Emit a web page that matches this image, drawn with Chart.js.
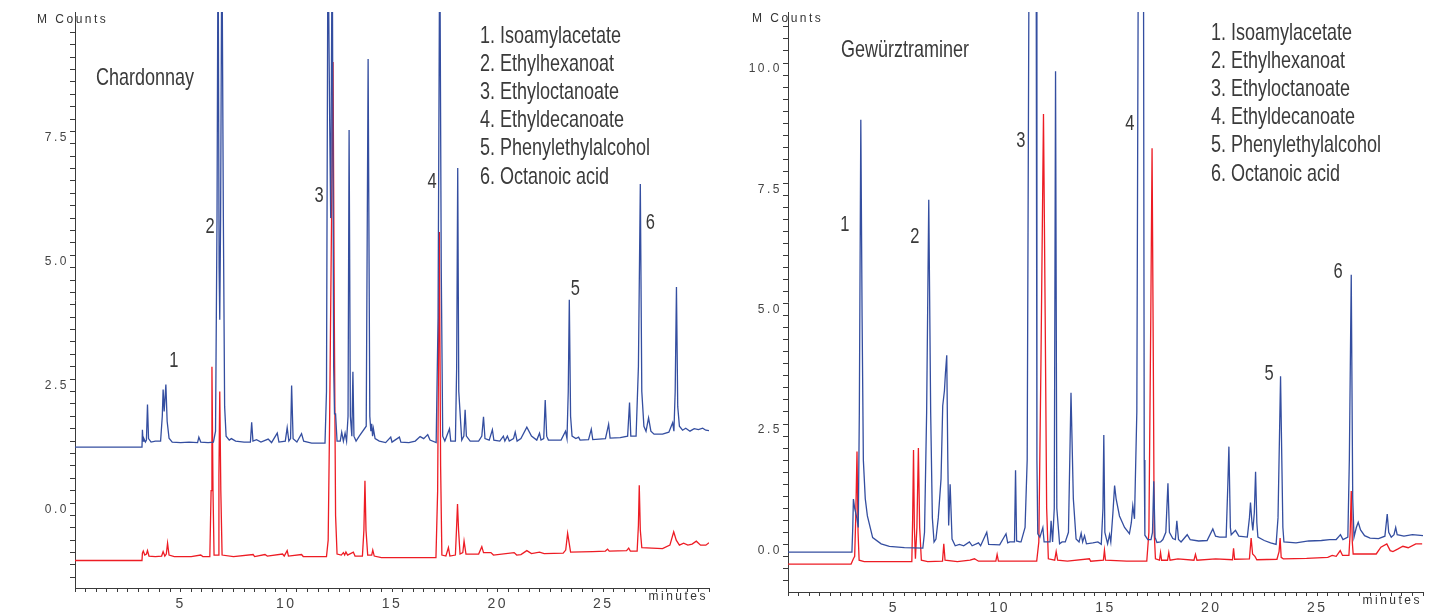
<!DOCTYPE html>
<html>
<head>
<meta charset="utf-8">
<script src="https://cdn.jsdelivr.net/npm/chart.js@4/dist/chart.umd.min.js"></script>
<style>
  body { margin: 0; background: #fff; }
  .panel { position: absolute; top: 0; width: 723px; height: 612px; }
  #leftPanel { left: 0; }
  #rightPanel { left: 723px; }
</style>
</head>
<body>
<div class="panel" id="leftPanel"><canvas id="chardonnayChart"></canvas></div>
<div class="panel" id="rightPanel"><canvas id="gewurzChart"></canvas></div>
<script>
// peak names, same list in both panels
const compounds = [
  '1. Isoamylacetate',
  '2. Ethylhexanoat',
  '3. Ethyloctanoate',
  '4. Ethyldecanoate',
  '5. Phenylethylalcohol',
  '6. Octanoic acid'
];

// [minutes, MCounts]
const chardonnayBlue = [
  [0,1.38],[3.17,1.38],[3.19,1.73],[3.22,1.5],[3.26,1.55],[3.33,1.48],[3.38,1.52],[3.43,2.24],[3.48,1.55],[3.6,1.48],
  [3.8,1.5],[4.05,1.5],[4.13,2.0],[4.17,2.54],[4.22,2.1],[4.3,2.64],[4.36,1.9],[4.45,1.56],[4.6,1.48],[5.0,1.47],
  [5.4,1.48],[5.8,1.47],[5.86,1.58],[5.95,1.48],[6.3,1.47],[6.55,1.48],[6.65,1.7],[6.72,6],[6.77,12],[6.82,5],
  [6.85,3.95],[6.89,6],[6.95,12],[7.02,6],[7.08,2.2],[7.15,1.6],[7.3,1.52],[7.4,1.55],[7.6,1.5],[8.0,1.48],
  [8.3,1.48],[8.36,1.88],[8.42,1.5],[8.59,1.53],[8.8,1.48],[9.14,1.54],[9.3,1.47],[9.57,1.66],[9.65,1.48],[9.95,1.5],
  [10.04,1.77],[10.12,1.5],[10.2,1.55],[10.25,2.62],[10.32,1.55],[10.5,1.48],[10.72,1.65],[10.82,1.5],[11.2,1.46],[11.83,1.46],
  [11.9,2.5],[11.97,12],[12.05,8],[12.1,6],[12.17,12],[12.24,3.0],[12.28,2.05],[12.33,2.05],[12.4,1.5],[12.55,1.5],
  [12.62,1.68],[12.7,1.5],[12.78,1.66],[12.85,1.5],[12.92,2],[12.97,7.78],[13.03,2],[13.1,1.6],[13.15,2.9],[13.2,1.6],
  [13.3,1.5],[13.45,1.6],[13.78,1.8],[13.87,9.21],[13.95,2],[14.0,1.7],[14.04,1.85],[14.08,1.6],[14.12,1.75],[14.2,1.55],
  [14.4,1.5],[14.7,1.47],[14.94,1.58],[15.0,1.48],[15.35,1.58],[15.42,1.48],[15.8,1.47],[16.1,1.5],[16.33,1.59],[16.5,1.55],
  [16.69,1.63],[16.8,1.52],[17.09,1.47],[17.18,4],[17.26,12],[17.33,5],[17.4,1.6],[17.5,1.5],[17.72,1.75],[17.78,1.5],
  [18.0,1.5],[18.06,3],[18.11,7.01],[18.16,2.5],[18.3,1.52],[18.4,1.6],[18.46,2.13],[18.52,1.6],[18.7,1.5],[19.1,1.5],
  [19.25,1.6],[19.33,1.99],[19.4,1.55],[19.6,1.52],[19.75,1.73],[19.82,1.52],[20.1,1.5],[20.27,1.6],[20.34,1.5],[20.46,1.6],
  [20.55,1.5],[20.75,1.55],[20.83,1.68],[20.92,1.5],[21.1,1.55],[21.38,1.78],[21.6,1.6],[21.85,1.52],[21.98,1.66],[22.05,1.52],
  [22.18,1.55],[22.25,2.33],[22.32,1.6],[22.4,1.52],[23.0,1.52],[23.21,1.7],[23.28,1.55],[23.34,2.5],[23.39,4.35],[23.45,2.0],
  [23.52,1.6],[23.7,1.55],[23.83,1.58],[23.9,1.52],[24.3,1.53],[24.43,1.74],[24.5,1.53],[25.1,1.55],[25.25,1.84],[25.32,1.56],
  [25.8,1.57],[26.15,1.6],[26.24,2.28],[26.3,1.6],[26.55,1.6],[26.66,3],[26.75,6.69],[26.82,2.5],[26.92,1.8],[27.02,1.7],
  [27.14,1.97],[27.25,1.7],[27.4,1.64],[27.8,1.64],[28.1,1.68],[28.28,1.87],[28.34,1.7],[28.4,2.5],[28.46,4.61],[28.52,2.2],
  [28.6,1.8],[28.75,1.72],[28.9,1.76],[29.1,1.7],[29.3,1.75],[29.5,1.73],[29.7,1.76],[29.85,1.72],[30,1.71]
];

const chardonnayRed = [
  [0,-0.91],[3.17,-0.91],[3.19,-0.76],[3.23,-0.72],[3.3,-0.8],[3.38,-0.78],[3.43,-0.71],[3.5,-0.82],[3.8,-0.83],[4.1,-0.82],
  [4.17,-0.73],[4.25,-0.82],[4.32,-0.78],[4.38,-0.56],[4.45,-0.8],[4.7,-0.83],[5.5,-0.83],[5.95,-0.8],[6.05,-0.83],[6.38,-0.83],
  [6.44,0.5],[6.48,3.0],[6.53,0.5],[6.58,-0.8],[6.77,-0.8],[6.81,0.8],[6.85,2.5],[6.9,0.5],[6.96,-0.8],[7.5,-0.83],
  [8.43,-0.79],[8.5,-0.83],[8.99,-0.79],[9.1,-0.82],[9.82,-0.78],[9.9,-0.82],[10.04,-0.71],[10.1,-0.82],[10.72,-0.79],[10.8,-0.83],
  [11.9,-0.83],[11.98,-0.5],[12.05,2],[12.14,6],[12.21,9.15],[12.27,4],[12.33,0],[12.4,-0.78],[12.6,-0.8],[12.7,-0.75],
  [12.76,-0.8],[12.82,-0.74],[12.9,-0.8],[13.17,-0.74],[13.25,-0.82],[13.6,-0.82],[13.67,-0.3],[13.72,0.7],[13.77,-0.3],[13.85,-0.8],
  [14.04,-0.8],[14.09,-0.7],[14.16,-0.82],[14.5,-0.85],[15.5,-0.85],[16.5,-0.85],[17.08,-0.85],[17.16,0.5],[17.24,5.72],[17.3,1],
  [17.36,-0.8],[17.55,-0.82],[17.67,-0.65],[17.74,-0.82],[18.0,-0.8],[18.05,-0.3],[18.1,0.23],[18.15,-0.3],[18.22,-0.78],[18.35,-0.75],
  [18.41,-0.52],[18.5,-0.78],[19.1,-0.78],[19.25,-0.63],[19.33,-0.75],[19.68,-0.75],[19.8,-0.8],[20.78,-0.75],[20.9,-0.8],[21.1,-0.79],
  [21.38,-0.71],[21.6,-0.77],[21.98,-0.74],[22.2,-0.77],[23.1,-0.76],[23.22,-0.7],[23.31,-0.36],[23.38,-0.55],[23.45,-0.74],[24.5,-0.73],
  [25.1,-0.72],[25.2,-0.68],[25.28,-0.72],[26.1,-0.71],[26.2,-0.66],[26.28,-0.72],[26.6,-0.72],[26.66,-0.2],[26.7,0.61],[26.75,-0.3],
  [26.82,-0.65],[27.3,-0.66],[27.8,-0.67],[28.15,-0.6],[28.33,-0.33],[28.45,-0.5],[28.6,-0.6],[28.8,-0.56],[29.0,-0.6],[29.2,-0.58],
  [29.4,-0.52],[29.6,-0.6],[29.85,-0.6],[30,-0.55]
];

const gewurzBlue = [
  [0,0.09],[3.02,0.09],[3.06,0.6],[3.09,1.19],[3.15,1.0],[3.25,0.8],[3.32,0.6],[3.37,3],[3.44,9.07],[3.5,5],
  [3.56,2],[3.65,1.2],[3.75,0.84],[4.0,0.39],[4.4,0.26],[4.79,0.21],[5.5,0.18],[6.37,0.17],[6.45,0.5],[6.55,3],
  [6.65,7.41],[6.74,3],[6.82,0.8],[6.9,0.3],[6.99,0.36],[7.1,0.8],[7.23,1.61],[7.31,3.13],[7.39,3.44],[7.44,3.82],
  [7.5,4.18],[7.55,2],[7.59,0.64],[7.66,1.5],[7.75,0.36],[7.9,0.22],[8.1,0.25],[8.3,0.22],[8.57,0.3],[8.7,0.22],
  [9.0,0.28],[9.1,0.22],[9.39,0.5],[9.48,0.25],[10.0,0.24],[10.3,0.47],[10.38,0.28],[10.48,0.3],[10.7,0.3],[10.75,1.79],
  [10.8,0.32],[10.95,0.3],[11.01,0.3],[11.2,0.6],[11.3,2],[11.4,14],[11.72,14],[11.76,2],[11.8,0.47],[11.9,0.4],
  [12.04,0.6],[12.1,0.3],[12.38,0.3],[12.43,0.74],[12.5,0.3],[12.58,1],[12.64,10.08],[12.7,1],[12.83,0.26],[12.95,0.3],
  [13.1,0.3],[13.25,0.5],[13.37,3.4],[13.48,1.2],[13.61,0.36],[13.75,0.3],[13.85,0.48],[13.92,0.3],[14.01,0.43],[14.1,0.26],
  [14.4,0.28],[14.64,0.3],[14.8,0.25],[14.88,1],[14.92,2.52],[14.97,0.5],[15.1,0.26],[15.19,0.45],[15.25,0.3],[15.35,0.9],
  [15.43,1.47],[15.5,1.2],[15.66,0.84],[15.9,0.6],[16.13,0.47],[16.22,0.7],[16.29,1.05],[16.37,0.78],[16.48,3],[16.56,14],
  [16.79,14],[16.83,2],[16.86,0.44],[17.0,0.35],[17.15,0.35],[17.22,0.5],[17.28,1.56],[17.34,0.4],[17.43,0.29],[17.6,0.3],
  [17.71,0.35],[17.85,0.5],[17.95,1.52],[18.02,0.5],[18.18,0.37],[18.3,0.35],[18.37,0.74],[18.45,0.35],[18.57,0.3],[18.86,0.45],
  [19.0,0.35],[19.4,0.32],[19.8,0.33],[20.07,0.57],[20.2,0.42],[20.39,0.4],[20.7,0.4],[20.78,1.5],[20.83,2.28],[20.9,0.6],
  [20.94,0.45],[21.14,0.54],[21.3,0.42],[21.7,0.4],[21.8,0.8],[21.85,1.12],[21.92,0.7],[21.96,0.54],[22.03,0.9],[22.09,1.76],
  [22.15,0.7],[22.2,0.4],[22.5,0.33],[22.8,0.28],[23.06,0.25],[23.15,0.8],[23.22,2.5],[23.27,3.74],[23.33,2.0],[23.38,0.6],
  [23.43,0.3],[24.0,0.28],[24.6,0.32],[25.2,0.33],[25.59,0.35],[25.9,0.35],[26.04,0.42],[26.1,0.45],[26.22,0.35],[26.45,0.4],
  [26.52,2.0],[26.61,5.85],[26.68,1.2],[26.74,0.4],[26.85,0.6],[26.94,0.71],[27.05,0.55],[27.24,0.43],[27.5,0.38],[27.9,0.37],
  [28.2,0.42],[28.31,0.88],[28.38,0.5],[28.5,0.4],[28.63,0.45],[28.71,0.6],[28.78,0.45],[29.1,0.42],[29.5,0.45],[29.75,0.44],
  [30,0.43]
];

const gewurzRed = [
  [0,-0.16],[2.98,-0.16],[3.09,-0.05],[3.15,0.0],[3.2,0.8],[3.26,2.18],[3.31,0.5],[3.36,-0.08],[3.6,-0.11],[5.0,-0.11],
  [5.85,-0.11],[5.89,0.8],[5.93,2.21],[5.97,0.6],[6.02,-0.05],[6.09,0.6],[6.16,2.25],[6.22,0.6],[6.3,-0.08],[6.6,-0.11],
  [7.3,-0.1],[7.36,0.26],[7.42,-0.08],[8.0,-0.11],[8.6,-0.08],[8.81,-0.05],[9.0,-0.1],[9.82,-0.1],[9.88,0.04],[9.94,-0.1],
  [10.6,-0.1],[11.75,-0.1],[11.85,0.3],[11.95,4],[12.07,9.19],[12.15,5],[12.22,1],[12.3,-0.05],[12.6,-0.08],[12.67,0.1],
  [12.74,-0.08],[13.2,-0.1],[14.24,-0.05],[14.3,-0.1],[14.9,-0.08],[14.95,0.13],[15.0,-0.08],[16.0,-0.1],[16.95,-0.1],[17.05,0.5],
  [17.14,5],[17.2,8.48],[17.26,4],[17.3,0.5],[17.36,-0.05],[17.55,-0.08],[17.6,0.08],[17.65,-0.08],[17.93,-0.08],[17.99,0.08],
  [18.05,-0.08],[18.42,-0.05],[19.18,-0.08],[19.25,0.04],[19.32,-0.08],[20.2,-0.05],[21.0,-0.07],[21.05,0.17],[21.1,-0.06],[21.8,-0.05],
  [21.88,0.38],[21.95,0.05],[22.06,0.0],[22.15,-0.07],[23.1,-0.06],[23.2,0.1],[23.25,0.38],[23.3,-0.02],[23.4,-0.05],[24.5,-0.04],
  [25.5,-0.02],[25.71,0.02],[25.9,0.0],[26.09,0.12],[26.2,0.02],[26.5,0.02],[26.56,0.5],[26.61,1.36],[26.66,0.3],[26.7,0.05],
  [27.2,0.05],[27.79,0.05],[28.01,0.19],[28.29,0.26],[28.45,0.12],[28.58,0.1],[28.8,0.15],[29.05,0.21],[29.3,0.18],[29.66,0.26],
  [29.96,0.26]
];

// peak numbers: [label, minutes, MCounts]
const chardonnayPeakLabels = [['1',4.68,3.12],['2',6.39,5.82],['3',11.55,6.45],['4',16.9,6.73],['5',23.67,4.57],['6',27.22,5.91]];
const gewurzPeakLabels = [['1',2.68,6.89],['2',5.99,6.64],['3',11.0,8.63],['4',16.15,8.98],['5',22.73,3.79],['6',25.99,5.91]];

const BLUE = '#344ea0';
const RED = '#ed1c24';
const AXIS = '#3a3a3a';
const TEXT = '#333';
const SANS = '"Liberation Sans", Arial, sans-serif';

function toPoints(pairs) {
  return pairs.map(p => ({ x: p[0], y: p[1] }));
}

function stepTicks(start, end, step) {
  let ticks = [];
  for (let i = 0; start + i * step <= end + 1e-9; i++) {
    ticks.push({ value: start + i * step });
  }
  return ticks;
}

function drawNarrow(ctx, text, x, y, size, align) {
  ctx.save();
  ctx.translate(x, y);
  ctx.scale(0.75, 1);
  ctx.font = size + 'px ' + SANS;
  ctx.textAlign = align;
  ctx.textBaseline = 'middle';
  ctx.fillText(text, 0, 0);
  ctx.restore();
}

function textPlugin(panel) {
  return {
    id: 'chromText',
    beforeDraw(chart) {
      chart.ctx.letterSpacing = '2.5px';
    },
    afterDraw(chart) {
      const ctx = chart.ctx;
      const area = chart.chartArea;
      const xs = chart.scales.x;
      const ys = chart.scales.y;
      ctx.save();
      ctx.fillStyle = TEXT;
      ctx.font = '12px ' + SANS;
      ctx.textBaseline = 'middle';
      ctx.textAlign = 'left';
      ctx.fillText('M Counts', area.left - panel.countsOffset, panel.countsY);
      ctx.textAlign = 'right';
      ctx.fillText('minutes', area.right - 1, area.bottom + panel.minutesDrop);
      ctx.letterSpacing = '0px';
      ctx.fillStyle = '#3a3a3a';
      drawNarrow(ctx, panel.title, panel.titleX, panel.titleY, 24, 'left');
      compounds.forEach((name, i) => {
        drawNarrow(ctx, name, panel.legendX, panel.legendY + i * 28.2, 24, 'left');
      });
      panel.peaks.forEach(p => {
        drawNarrow(ctx, p[0], xs.getPixelForValue(p[1]), ys.getPixelForValue(p[2]), 22, 'center');
      });
      ctx.restore();
    }
  };
}

function buildChart(canvas, panel) {
  return new Chart(canvas, {
    type: 'line',
    data: {
      datasets: [
        { data: toPoints(panel.blue), borderColor: BLUE, borderWidth: 1.3, pointRadius: 0, tension: 0 },
        { data: toPoints(panel.red), borderColor: RED, borderWidth: 1.3, pointRadius: 0, tension: 0 }
      ]
    },
    options: {
      animation: false,
      responsive: true,
      maintainAspectRatio: false,
      layout: { padding: { left: 0, right: panel.padRight, top: 12, bottom: 0 } },
      plugins: { legend: { display: false }, tooltip: { enabled: false } },
      scales: {
        x: {
          type: 'linear',
          min: 0,
          max: 30,
          afterBuildTicks: s => { s.ticks = stepTicks(0, 30, 0.5); },
          afterFit: s => { s.height = panel.axisBottom; },
          grid: { drawOnChartArea: false, tickLength: 4, tickColor: AXIS },
          border: { color: AXIS, width: 1 },
          ticks: {
            autoSkip: false,
            maxRotation: 0,
            padding: 4,
            color: '#444',
            font: { family: SANS, size: 14 },
            callback: v => (v % 5 === 0 && v > 0 && v < 30) ? String(v) : ''
          }
        },
        y: {
          type: 'linear',
          min: panel.yMin,
          max: panel.yMax,
          afterBuildTicks: s => { s.ticks = stepTicks(Math.ceil(panel.yMin / 0.25) * 0.25, panel.yMax - 0.2, 0.25); },
          afterFit: s => { s.width = panel.axisLeft; },
          grid: { drawOnChartArea: false, tickLength: 5, tickColor: AXIS },
          border: { color: AXIS, width: 1 },
          ticks: {
            autoSkip: false,
            padding: 1,
            labelOffset: -6,
            color: '#444',
            font: { family: SANS, size: 12 },
            callback: v => (v % 2.5 === 0) ? v.toFixed(1) : ''
          }
        }
      }
    },
    plugins: [textPlugin(panel)]
  });
}

buildChart(document.querySelector('#chardonnayChart'), {
  blue: chardonnayBlue, red: chardonnayRed, peaks: chardonnayPeakLabels,
  title: 'Chardonnay', titleX: 96, titleY: 78, legendX: 480, legendY: 36,
  yMin: -1.465, yMax: 10.16, axisLeft: 75, padRight: 14, axisBottom: 24,
  countsOffset: 38, countsY: 20, minutesDrop: 9
});

buildChart(document.querySelector('#gewurzChart'), {
  blue: gewurzBlue, red: gewurzRed, peaks: gewurzPeakLabels,
  title: 'Gewürztraminer', titleX: 118, titleY: 50, legendX: 488, legendY: 33,
  yMin: -0.74, yMax: 11.31, axisLeft: 65, padRight: 23, axisBottom: 20,
  countsOffset: 36, countsY: 19, minutesDrop: 9
});
</script>
</body>
</html>
